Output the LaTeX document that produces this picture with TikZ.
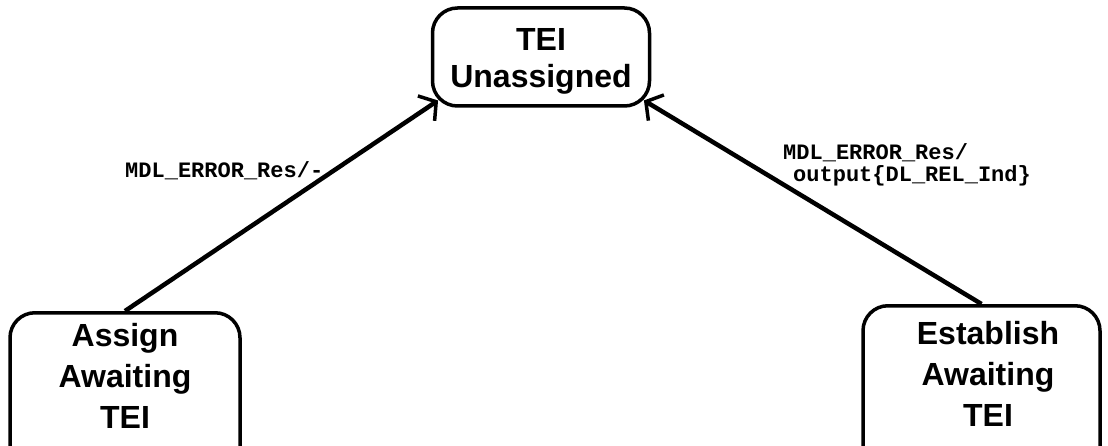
\documentclass[tikz,border=0pt]{standalone}
\usepackage{fontspec}
\setmainfont{Liberation Sans}
\newfontfamily\labelfont{Liberation Mono}
\usetikzlibrary{arrows.meta,calc}
\begin{document}
\begin{tikzpicture}[x=1pt,y=-1pt,
  statebox/.style={draw, line width=3.5pt, rounded corners=25pt},
  statetext/.style={font=\fontsize{32}{41}\selectfont\bfseries, align=center, inner sep=0pt},
  transition/.style={line width=4.5pt,
    -{Straight Barb[length=12pt,width=30pt,line width=3.5pt]}},
  translabel/.style={font=\labelfont\fontsize{22}{22}\selectfont\bfseries,
    inner sep=0pt, align=left}]
% page frame
\clip (0,0) rectangle (1108,446);
\fill[white] (0,0) rectangle (1108,446);

% states
\node[statebox, minimum width=217pt, minimum height=98pt] (unassigned) at (541,57) {};
\node[statetext, font=\fontsize{32}{37}\selectfont\bfseries] (unassignedtext)
      at (541,61) {TEI\\Unassigned};
\node[statebox, minimum width=230pt, minimum height=200pt, anchor=north]
      (assign) at (125,311) {};
\node[statetext] (assigntext) at (125,376) {Assign\\Awaiting\\TEI};
\node[statebox, minimum width=237pt, minimum height=200pt, anchor=north]
      (establish) at (981.5,304) {};
\node[statetext] (establishtext) at (988,374) {Establish\\Awaiting\\TEI};

% arrow ends on the rounded lower corners of the upper state
\coordinate (unassigned-sw) at ($(unassigned.south west)+(7.3,-7.3)$);
\coordinate (unassigned-se) at ($(unassigned.south east)+(-7.3,-7.3)$);

% transitions
\draw[transition] (assign.north) -- (unassigned-sw);
\draw[transition] (establish.north) -- (unassigned-se);

% transition labels
\node[translabel, anchor=base west] (errlabel) at (125,178) {MDL\_ERROR\_Res/-};
\node[translabel, anchor=north west] (rellabel) at (783,143)
  {MDL\_ERROR\_Res/\\\hspace*{10pt}output\{DL\_REL\_Ind\}};
\end{tikzpicture}
\end{document}
